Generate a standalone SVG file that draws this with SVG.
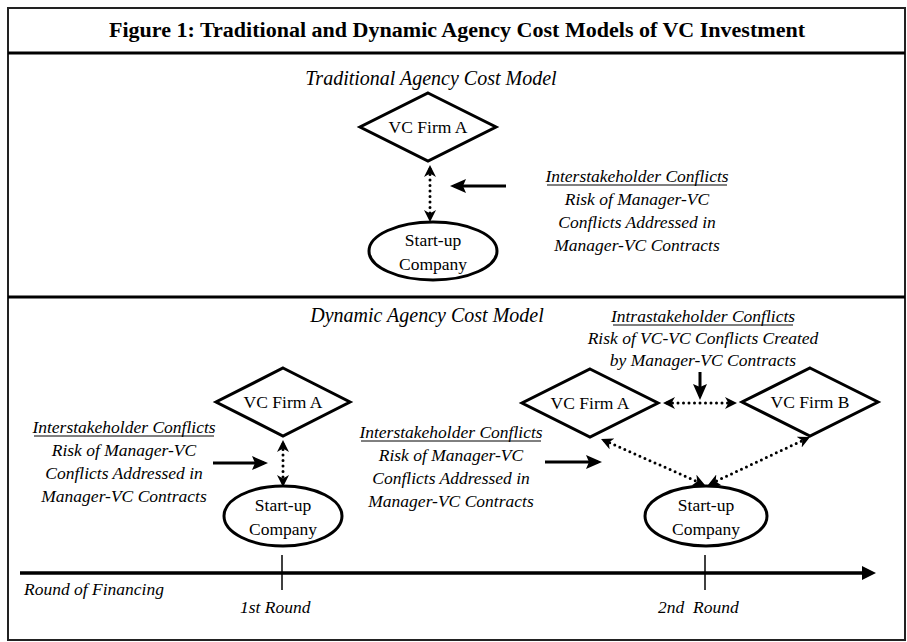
<svg xmlns="http://www.w3.org/2000/svg" width="907" height="642" viewBox="0 0 907 642">
<style>
.t{font-family:"Liberation Serif","Times New Roman",serif;fill:#000}
.it{font-style:italic;font-size:17.5px}
.nd{font-size:17.5px}
.hd{font-style:italic;font-size:20px}
.shape{fill:#fff;stroke:#000;stroke-width:3}
.dot{fill:none;stroke:#000;stroke-width:3;stroke-linecap:round;stroke-dasharray:0 5.5}
.sol{fill:none;stroke:#000;stroke-width:3}
.ul{stroke:#000;stroke-width:1}
</style>
<defs>
<marker id="dh" viewBox="0 0 12 12" markerWidth="12" markerHeight="12" refX="8" refY="6" orient="auto-start-reverse" markerUnits="userSpaceOnUse"><path d="M0,0 L12,6 L0,12 L3.5,6 Z" fill="#000"/></marker>
<marker id="sh" viewBox="0 0 16 14" markerWidth="16" markerHeight="14" refX="12" refY="7" orient="auto" markerUnits="userSpaceOnUse"><path d="M0,0 L16,7 L0,14 L3,7 Z" fill="#000"/></marker>
<marker id="ax" viewBox="0 0 14 14" markerWidth="14" markerHeight="14" refX="4" refY="7" orient="auto" markerUnits="userSpaceOnUse"><path d="M0,0 L14,7 L0,14 Z" fill="#000"/></marker>
</defs>
<rect width="907" height="642" fill="#fff"/>
<g id="frame">
<rect x="8" y="8" width="897" height="632" fill="none" stroke="#222" stroke-width="2"/>
<line x1="8" y1="53" x2="905" y2="53" stroke="#000" stroke-width="3"/>
<line x1="8" y1="297" x2="905" y2="297" stroke="#000" stroke-width="3"/>
</g>
<text class="t" x="457" y="37" text-anchor="middle" font-size="20" font-weight="bold" textLength="696" lengthAdjust="spacingAndGlyphs">Figure 1: Traditional and Dynamic Agency Cost Models of VC Investment</text>
<text class="t hd" x="431" y="85" text-anchor="middle">Traditional Agency Cost Model</text>
<text class="t hd" x="427" y="322" text-anchor="middle">Dynamic Agency Cost Model</text>

<g id="top-vc-a"><polygon class="shape" points="428,93 496,127 428,161 360,127"/><text class="t nd" x="428" y="133" text-anchor="middle">VC Firm A</text></g>
<g id="top-startup"><ellipse class="shape" cx="433" cy="251" rx="64" ry="29"/><text class="t nd" x="433" y="246" text-anchor="middle">Start-up</text><text class="t nd" x="433" y="270" text-anchor="middle">Company</text></g>

<g id="r1-vc-a"><polygon class="shape" points="283,368 350,402 283,436 216,402"/><text class="t nd" x="283" y="408" text-anchor="middle">VC Firm A</text></g>
<g id="r1-startup"><ellipse class="shape" cx="283" cy="516" rx="59" ry="30"/><text class="t nd" x="283" y="511" text-anchor="middle">Start-up</text><text class="t nd" x="283" y="535" text-anchor="middle">Company</text></g>

<g id="r2-vc-a"><polygon class="shape" points="590,369 658,403 590,437 522,403"/><text class="t nd" x="590" y="409" text-anchor="middle">VC Firm A</text></g>
<g id="r2-vc-b"><polygon class="shape" points="810,368 878,402 810,436 742,402"/><text class="t nd" x="810" y="408" text-anchor="middle">VC Firm B</text></g>
<g id="r2-startup"><ellipse class="shape" cx="706" cy="516" rx="61" ry="30"/><text class="t nd" x="706" y="511" text-anchor="middle">Start-up</text><text class="t nd" x="706" y="535" text-anchor="middle">Company</text></g>

<g id="label-top">
<text class="t it" x="637" y="182" text-anchor="middle">Interstakeholder Conflicts</text>
<line class="ul" x1="547" y1="185" x2="727" y2="185"/>
<text class="t it" x="637" y="205" text-anchor="middle">Risk of Manager-VC</text>
<text class="t it" x="637" y="228" text-anchor="middle">Conflicts Addressed in</text>
<text class="t it" x="637" y="251" text-anchor="middle">Manager-VC Contracts</text>
</g>
<g id="label-r1">
<text class="t it" x="124" y="433" text-anchor="middle">Interstakeholder Conflicts</text>
<line class="ul" x1="34" y1="436" x2="214" y2="436"/>
<text class="t it" x="124" y="456" text-anchor="middle">Risk of Manager-VC</text>
<text class="t it" x="124" y="479" text-anchor="middle">Conflicts Addressed in</text>
<text class="t it" x="124" y="502" text-anchor="middle">Manager-VC Contracts</text>
</g>
<g id="label-r2">
<text class="t it" x="451" y="438" text-anchor="middle">Interstakeholder Conflicts</text>
<line class="ul" x1="361" y1="441" x2="541" y2="441"/>
<text class="t it" x="451" y="461" text-anchor="middle">Risk of Manager-VC</text>
<text class="t it" x="451" y="484" text-anchor="middle">Conflicts Addressed in</text>
<text class="t it" x="451" y="507" text-anchor="middle">Manager-VC Contracts</text>
</g>
<g id="label-intra">
<text class="t it" x="703" y="322" text-anchor="middle">Intrastakeholder Conflicts</text>
<line class="ul" x1="613" y1="325" x2="793" y2="325"/>
<text class="t it" x="703" y="344" text-anchor="middle">Risk of VC-VC Conflicts Created</text>
<text class="t it" x="703" y="366" text-anchor="middle">by Manager-VC Contracts</text>
</g>

<g id="connectors">
<path class="dot" d="M430,169 L430,218" marker-start="url(#dh)" marker-end="url(#dh)"/>
<path class="sol" d="M506,186 L454,186" marker-end="url(#sh)"/>
<path class="dot" d="M283,444 L283,483" marker-start="url(#dh)" marker-end="url(#dh)"/>
<path class="sol" d="M213,463 L264,463" marker-end="url(#sh)"/>
<path class="sol" d="M545,462 L598,462" marker-end="url(#sh)"/>
<path class="sol" d="M700,372 L700,396" marker-end="url(#sh)"/>
<path class="dot" d="M667,403 L733,403" marker-start="url(#dh)" marker-end="url(#dh)"/>
<path class="dot" d="M604.7,440.6 L701.3,483.4" marker-start="url(#dh)" marker-end="url(#dh)"/>
<path class="dot" d="M711.6,483.3 L806.4,438.7" marker-start="url(#dh)" marker-end="url(#dh)"/>
</g>

<g id="timeline">
<path d="M20,573 L866,573" stroke="#000" stroke-width="3.5" fill="none" marker-end="url(#ax)"/>
<line x1="282" y1="555" x2="282" y2="590" stroke="#000" stroke-width="1.5"/>
<line x1="705" y1="555" x2="705" y2="590" stroke="#000" stroke-width="1.5"/>
<text class="t it" x="24" y="595">Round of Financing</text>
<text class="t it" x="240" y="613">1st Round</text>
<text class="t it" x="658" y="613" style="white-space:pre">2nd  Round</text>
</g>
</svg>
